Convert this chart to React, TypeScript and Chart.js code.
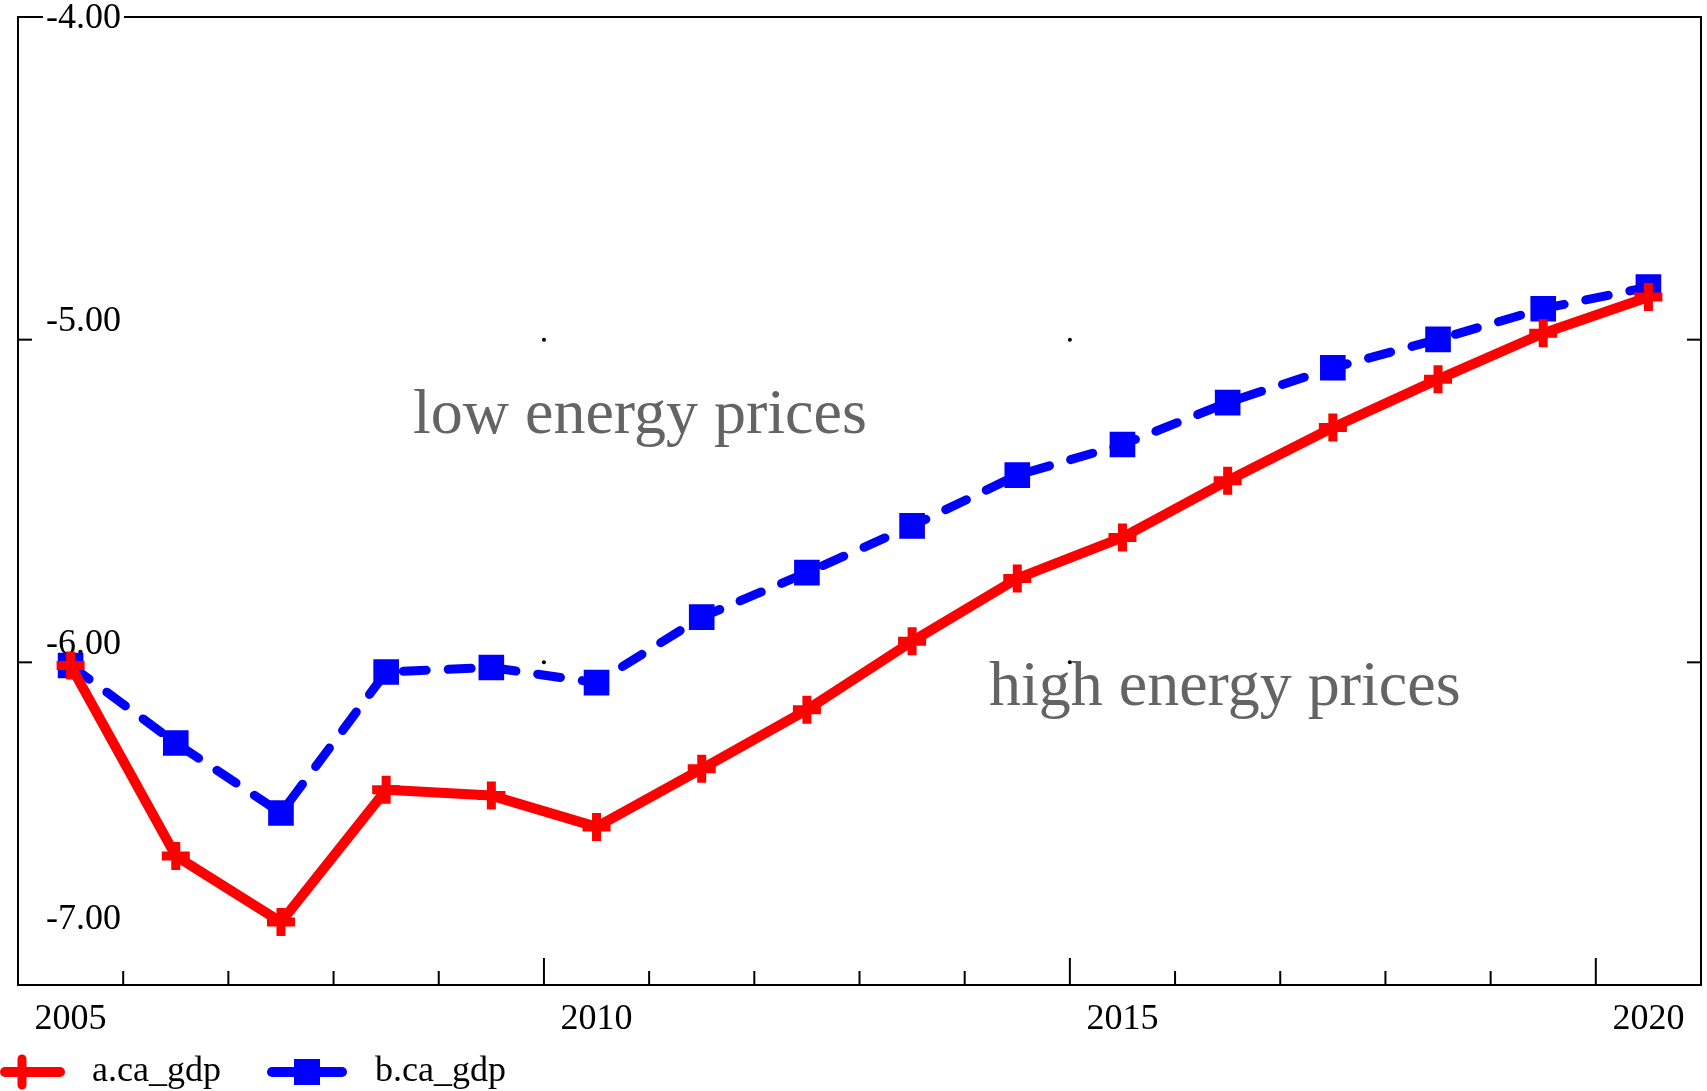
import { useEffect, useRef } from "react";
import { Chart, registerables } from "chart.js";

Chart.register(...registerables);

// ---- data ----
const years = [
  "2005", "2006", "2007", "2008", "2009", "2010", "2011", "2012",
  "2013", "2014", "2015", "2016", "2017", "2018", "2019", "2020",
];
const xTickLabels = ["2005", "2010", "2015", "2020"];
const majorTickYears = ["2010", "2015", "2020"];
const yTickValues = [-4, -5, -6, -7];
const seriesNames = ["a.ca_gdp", "b.ca_gdp"];
const seriesA = [
  -6.01, -6.6, -6.805, -6.395, -6.413, -6.51, -6.33, -6.147,
  -5.935, -5.74, -5.613, -5.437, -5.272, -5.123, -4.98, -4.868,
];
const seriesB = [
  -6.01, -6.25, -6.467, -6.03, -6.016, -6.063, -5.86, -5.722,
  -5.577, -5.42, -5.325, -5.195, -5.087, -4.999, -4.904, -4.837,
];
const annotationTexts = ["low energy prices", "high energy prices"];

const FONT = "'Liberation Serif', 'Times New Roman', serif";

const decorPlugin = {
  id: "decor",
  beforeDatasetsDraw(chart: any) {
    const { ctx, chartArea: a, scales } = chart;
    const xs = scales.x;
    const ys = scales.y;
    ctx.save();
    ctx.strokeStyle = "#000";
    ctx.lineWidth = 2;
    ctx.lineCap = "butt";
    ctx.strokeRect(a.left, a.top, a.right - a.left, a.bottom - a.top);

    const step = xs.getPixelForValue(1) - xs.getPixelForValue(0);
    const seg = (x1: number, y1: number, x2: number, y2: number) => {
      ctx.beginPath();
      ctx.moveTo(x1, y1);
      ctx.lineTo(x2, y2);
      ctx.stroke();
    };
    // x ticks at year boundaries, drawn inward
    const majorX: number[] = [];
    for (let k = 1; k < years.length; k++) {
      const px = xs.getPixelForValue(k) - step / 2;
      const major = majorTickYears.includes(years[k]);
      if (major) majorX.push(px);
      seg(px, a.bottom, px, a.bottom - (major ? 27 : 14));
    }
    // y ticks
    const yMax = Math.max(...yTickValues);
    const yMin = Math.min(...yTickValues);
    const innerY: number[] = [];
    for (const v of yTickValues) {
      if (v === yMax || v === yMin) continue;
      const py = ys.getPixelForValue(v);
      innerY.push(py);
      seg(a.left, py, a.left + 14, py);
      seg(a.right, py, a.right - 14, py);
    }
    // grid dots
    ctx.fillStyle = "#000";
    for (const px of majorX.slice(0, 2)) {
      for (const py of innerY) {
        ctx.beginPath();
        ctx.arc(px, py, 2, 0, Math.PI * 2);
        ctx.fill();
      }
    }
    // y labels
    ctx.font = `36px ${FONT}`;
    ctx.textBaseline = "middle";
    ctx.textAlign = "left";
    for (const v of yTickValues) {
      const py = ys.getPixelForValue(v);
      const label = v.toFixed(2);
      let ly = py - 18;
      if (v === yMax) {
        ly = py + 2;
        const w = ctx.measureText(label).width;
        ctx.fillStyle = "#fff";
        ctx.fillRect(43, py - 3, w + 6, 6);
      } else if (v === yMin) {
        ly = py - 65;
      }
      ctx.fillStyle = "#000";
      ctx.fillText(label, 46, ly);
    }
    // x labels
    ctx.textAlign = "center";
    for (const lab of xTickLabels) {
      const idx = years.indexOf(lab);
      ctx.fillText(lab, xs.getPixelForValue(idx), a.bottom + 35);
    }
    // annotations
    ctx.font = `64px ${FONT}`;
    ctx.fillStyle = "#646464";
    ctx.textAlign = "left";
    ctx.textBaseline = "alphabetic";
    ctx.fillText(annotationTexts[0], 413, 433);
    ctx.fillText(annotationTexts[1], 989, 705);
    ctx.restore();
  },
  afterDraw(chart: any) {
    const { ctx } = chart;
    const ds = chart.data.datasets;
    const y = 1072;
    ctx.save();
    // legend A
    ctx.lineCap = "round";
    ctx.strokeStyle = ds[0].borderColor;
    ctx.lineWidth = 10;
    ctx.beginPath();
    ctx.moveTo(5, y);
    ctx.lineTo(60, y);
    ctx.stroke();
    ctx.lineWidth = 9;
    ctx.beginPath();
    ctx.moveTo(22, y - 13);
    ctx.lineTo(22, y + 13);
    ctx.moveTo(10, y);
    ctx.lineTo(34, y);
    ctx.stroke();
    // legend B
    ctx.strokeStyle = ds[1].borderColor;
    ctx.lineWidth = 10;
    ctx.beginPath();
    ctx.moveTo(272, y);
    ctx.lineTo(342, y);
    ctx.stroke();
    ctx.fillStyle = ds[1].borderColor;
    ctx.fillRect(294, y - 13, 26, 26);
    ctx.font = `36px ${FONT}`;
    ctx.fillStyle = "#000";
    ctx.textBaseline = "middle";
    ctx.textAlign = "left";
    ctx.fillText(seriesNames[0], 92, y);
    ctx.fillText(seriesNames[1], 375, y);
    ctx.restore();
  },
};

export default function App() {
  const ref = useRef<HTMLCanvasElement | null>(null);
  useEffect(() => {
    document.body.style.overflow = "hidden";
    const canvas = ref.current!;
    const chart = new Chart(canvas, {
      type: "line",
      data: {
        labels: years,
        datasets: [
          {
            label: seriesNames[0],
            data: seriesA,
            borderColor: "#ff0000",
            backgroundColor: "#ff0000",
            borderWidth: 10,
            borderJoinStyle: "round",
            pointStyle: "cross",
            pointRadius: 14,
            pointBorderWidth: 9,
            pointBorderColor: "#ff0000",
            pointHoverRadius: 14,
            tension: 0,
            clip: false,
          },
          {
            label: seriesNames[1],
            data: seriesB,
            borderColor: "#0000ff",
            backgroundColor: "#0000ff",
            borderWidth: 9,
            borderDash: [23, 22],
            borderCapStyle: "round",
            borderJoinStyle: "round",
            pointStyle: "rect",
            pointRadius: 16,
            pointBorderWidth: 3,
            pointBorderColor: "#0000ff",
            pointBackgroundColor: "#0000ff",
            pointHoverRadius: 16,
            tension: 0,
            clip: false,
          },
        ],
      },
      options: {
        responsive: false,
        animation: false,
        devicePixelRatio: 1,
        layout: { autoPadding: false, padding: { left: 18, right: 6, top: 17, bottom: 106 } },
        plugins: { legend: { display: false }, tooltip: { enabled: false } },
        events: [],
        scales: {
          x: { type: "category", offset: true, display: false },
          y: { type: "linear", min: -7, max: -4, display: false },
        },
      },
      plugins: [decorPlugin],
    } as any);
    return () => chart.destroy();
  }, []);
  return (
    <div style={{ position: "absolute", left: 0, top: 0, width: 1707, height: 1091, background: "#fff" }}>
      <canvas ref={ref} width={1707} height={1091} style={{ display: "block" }} />
    </div>
  );
}
